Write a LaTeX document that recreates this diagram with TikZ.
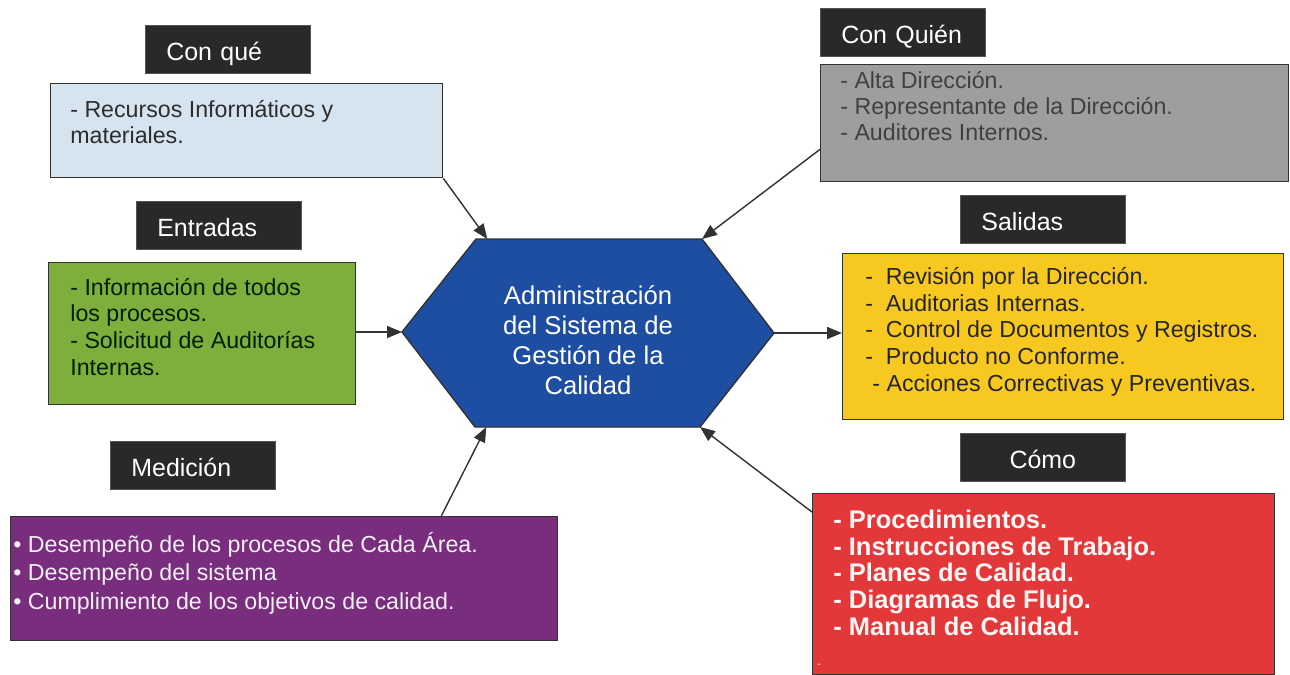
\documentclass[tikz,border=0pt]{standalone}
\usepackage{fontspec}
\setmainfont{Liberation Sans}
\usetikzlibrary{calc, arrows.meta}

\definecolor{hdrgray}{RGB}{40,42,40}
\definecolor{linegray}{RGB}{50,50,50}
\definecolor{txtgray}{RGB}{45,45,45}
\definecolor{boxblue}{RGB}{214,228,240}
\definecolor{boxgray}{RGB}{158,158,158}
\definecolor{boxgreen}{RGB}{128,174,60}
\definecolor{boxyellow}{RGB}{247,200,32}
\definecolor{boxpurple}{RGB}{120,45,125}
\definecolor{boxred}{RGB}{226,56,58}
\definecolor{coreblue}{RGB}{30,78,162}

\begin{document}
\begin{tikzpicture}[x=0.02cm, y=-0.02cm,
    header/.style={fill=hdrgray, draw=hdrgray!80, text=white, anchor=north west,
        minimum height=0.96cm, text width=2.46cm, inner xsep=0.42cm, inner ysep=0pt,
        text height=12.6pt, text depth=0pt,
        align=left, font=\fontsize{14.2}{17}\selectfont},
    panel/.style={draw=linegray, line width=0.8pt, anchor=north west, inner sep=0pt},
    % texts are placed by the baseline of their last line
    paneltxt/.style={anchor=base west, inner sep=0pt, align=left, text=txtgray,
        font=\fontsize{13.2}{14.8}\selectfont},
    link/.style={draw=linegray, line width=0.8pt, -{Triangle[length=0.3cm, width=0.24cm]}}]

    \useasboundingbox (0,0) rectangle (1290,674);

    % Central hexagon
    \coordinate (hexL) at (402,332);
    \coordinate (hexTL) at (476,239);
    \coordinate (hexTR) at (702,239);
    \coordinate (hexR) at (774,333);
    \coordinate (hexBR) at (700,427);
    \coordinate (hexBL) at (475,427);
    \draw[fill=coreblue, draw=linegray, line width=0.8pt]
        (hexL) -- (hexTL) -- (hexTR) -- (hexR) -- (hexBR) -- (hexBL) -- cycle;
    \node[align=center, text=white, font=\fontsize{14.6}{17}\selectfont] (core) at (588,340)
        {Administración\\del Sistema de\\Gestión de la\\Calidad};

    % Con qué
    \node[header] (conqueHdr) at (145,25) {Con qué};
    \node[panel, fill=boxblue, minimum width=7.84cm, minimum height=1.88cm] (conque) at (50,83) {};
    \node[paneltxt] (conqueTxt) at (70,143) {- Recursos Informáticos y\\materiales.};

    % Entradas
    \node[header] (entradasHdr) at (136,201) {Entradas};
    \node[panel, fill=boxgreen, minimum width=6.14cm, minimum height=2.84cm] (entradas) at (48,262) {};
    \node[paneltxt, text=black!80!green!60!black, font=\fontsize{13.2}{15.1}\selectfont] (entradasTxt) at (70,375)
        {- Información de todos\\los procesos.\\- Solicitud de Auditorías\\Internas.};

    % Medición
    \node[header] (medicionHdr) at (110,441) {Medición};
    \node[panel, fill=boxpurple, minimum width=10.94cm, minimum height=2.48cm] (medicion) at (10,516) {};
    \node[paneltxt, text=white!92!boxpurple, font=\fontsize{13.2}{16.2}\selectfont] (medicionTxt) at (13,609)
        {• Desempeño de los procesos de Cada Área.\\• Desempeño del sistema\\• Cumplimiento de los objetivos de calidad.};

    % Con Quién
    \node[header] (conquienHdr) at (820,8) {Con Quién};
    \node[panel, fill=boxgray, minimum width=9.36cm, minimum height=2.34cm] (conquien) at (820,64) {};
    \node[paneltxt, text=black!75] (conquienTxt) at (840,140)
        {- Alta Dirección.\\- Representante de la Dirección.\\- Auditores Internos.};

    % Salidas
    \node[header] (salidasHdr) at (960,195) {Salidas};
    \node[panel, fill=boxyellow, minimum width=8.82cm, minimum height=3.32cm] (salidas) at (842,253) {};
    \node[paneltxt, text=black!85, font=\fontsize{13.2}{15.1}\selectfont] (salidasTxt) at (865,391)
        {-\ \ Revisión por la Dirección.\\-\ \ Auditorias Internas.\\-\ \ Control de Documentos y Registros.\\-\ \ Producto no Conforme.\\\hspace*{4pt}- Acciones Correctivas y Preventivas.};

    % Cómo
    \node[header, align=center] (comoHdr) at (960,433) {Cómo};
    \node[panel, fill=boxred, minimum width=9.24cm, minimum height=3.62cm] (como) at (812,493) {};
    \node[paneltxt, text=white!96!red, font=\bfseries\fontsize{14.5}{15.1}\selectfont] (comoTxt) at (833,635)
        {- Procedimientos.\\- Instrucciones de Trabajo.\\- Planes de Calidad.\\- Diagramas de Flujo.\\- Manual de Calidad.};
    \node[text=white, font=\fontsize{6}{6}\selectfont, inner sep=0pt] (comoDash) at (819,666) {-};

    % Connectors
    \draw[link] (conque.south east) -- ($(hexTL)!0.05!(hexTR)$);
    \draw[link] ($(conquien.south west)+(0,-33)$) -- (hexTR);
    \draw[link] (entradas.east |- hexL) -- (hexL);
    \draw[link] (hexR) -- (hexR -| salidas.west);
    \draw[link] ($(medicion.north east)+(-117,0)$) -- ($(hexBL)!0.05!(hexBR)$);
    \draw[link] ($(como.north west)+(0,19)$) -- (hexBR);

\end{tikzpicture}
\end{document}
